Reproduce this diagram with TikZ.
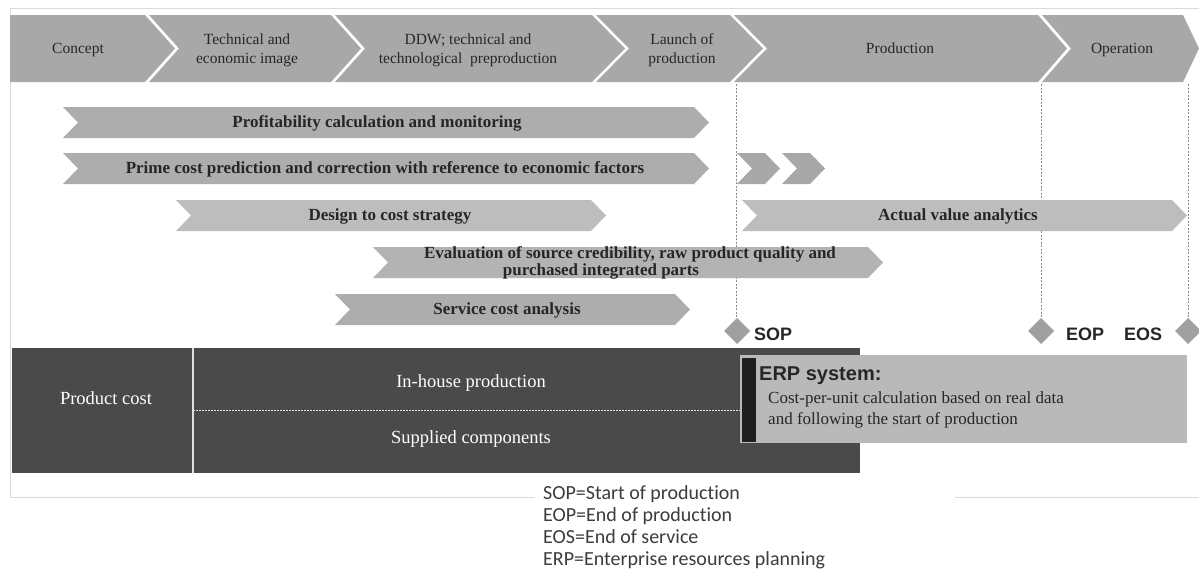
\documentclass[tikz,border=0pt]{standalone}
\usepackage{fontspec}
\setmainfont{Liberation Serif}
\newfontfamily\arialf{Liberation Sans}
\newfontfamily\calib[Ligatures=NoCommon]{Carlito}
\definecolor{chevgray}{HTML}{A8A8A8}
\definecolor{barA}{HTML}{ADADAD}
\definecolor{barB}{HTML}{BDBDBD}
\definecolor{barC}{HTML}{B3B3B3}
\definecolor{darkbox}{HTML}{4A4A4A}
\definecolor{erpgray}{HTML}{B9B9B9}
\definecolor{txtdark}{HTML}{262626}
\definecolor{framegray}{HTML}{DADADA}
\definecolor{dashgray}{HTML}{8C8C8C}
\definecolor{diagray}{HTML}{A0A0A0}
\tikzset{
  chev/.style={fill=chevgray, draw=none},
  phase/.style={inner sep=0pt, text=txtdark, align=center, font=\fontsize{15.5}{19}\selectfont},
  bartxt/.style={inner sep=0pt, text=txtdark, anchor=base, font=\bfseries\fontsize{17}{17}\selectfont},
  boxtxt/.style={inner sep=0pt, text=white, anchor=base, font=\fontsize{18.5}{22}\selectfont},
  milestone/.style={inner sep=0pt, text=txtdark, anchor=base, font=\arialf\bfseries\fontsize{18}{18}\selectfont},
  legend/.style={inner sep=0pt, text=txtdark!90, anchor=base west, font=\calib\fontsize{20}{22}\selectfont},
  erptxt/.style={inner sep=0pt, text=txtdark, anchor=base west, font=\fontsize{17}{21}\selectfont},
  vdash/.style={draw=dashgray, line width=0.9pt, dash pattern=on 2pt off 1.5pt},
  diam/.style={fill=diagray, draw=none}
}
\begin{document}
\begin{tikzpicture}[x=1pt,y=-1pt]
\useasboundingbox (0,0) rectangle (1199,574);
\fill[white] (0,0) rectangle (1199,574);
% frame
\draw[framegray, line width=1pt] (10,497) -- (10,8) -- (1199,8);
\draw[framegray, line width=1pt] (10,497) -- (535,497);
\draw[framegray, line width=1pt] (955,497) -- (1199,497);

% phase chevrons
\fill[chev] (10,15) -- (145,15) -- (175,48.5) -- (145,82) -- (10,82) -- cycle;
\fill[chev] (149,15) -- (331,15) -- (361,48.5) -- (331,82) -- (149,82) -- (179,48.5) -- cycle;
\fill[chev] (335,15) -- (592,15) -- (625,48.5) -- (592,82) -- (335,82) -- (365,48.5) -- cycle;
\fill[chev] (596,15) -- (730,15) -- (763,48.5) -- (730,82) -- (596,82) -- (629,48.5) -- cycle;
\fill[chev] (734,15) -- (1038,15) -- (1067,48.5) -- (1038,82) -- (734,82) -- (767,48.5) -- cycle;
\fill[chev] (1042,15) -- (1183,15) -- (1199,48.5) -- (1183,82) -- (1042,82) -- (1071,48.5) -- cycle;

\node[phase, anchor=base] (p1) at (78,53) {Concept};
\node[phase] (p2) at (247,50.5) {Technical and\\economic image};
\node[phase] (p3) at (468,50.5) {DDW; technical and\\technological\ \ preproduction};
\node[phase] (p4) at (682,50.5) {Launch of\\production};
\node[phase, anchor=base] (p5) at (900,53) {Production};
\node[phase, anchor=base] (p6) at (1122,53) {Operation};

% milestone dashed lines
\coordinate (sopT) at (736,84); \coordinate (sopB) at (736,318);
\coordinate (eopT) at (1041,84); \coordinate (eopB) at (1041,318);
\coordinate (eosT) at (1188,84); \coordinate (eosB) at (1188,318);
\draw[vdash] (sopT) -- (sopB);
\draw[vdash] (eopT) -- (eopB);
\draw[vdash] (eosT) -- (eosB);

% activity bars
\fill[barA] (63,107) -- (694,107) -- (709,122.5) -- (694,138) -- (63,138) -- (78,122.5) -- cycle;
\fill[barA] (63,153) -- (694,153) -- (709,168.5) -- (694,184) -- (63,184) -- (78,168.5) -- cycle;
\fill[chevgray] (737,153) -- (765,153) -- (780,168.5) -- (765,184) -- (737,184) -- (752,168.5) -- cycle;
\fill[chevgray] (782,153) -- (810,153) -- (825,168.5) -- (810,184) -- (782,184) -- (797,168.5) -- cycle;
\fill[barB] (176,200) -- (591,200) -- (606,215.5) -- (591,231) -- (176,231) -- (191,215.5) -- cycle;
\fill[barB] (742,200) -- (1172,200) -- (1187,215.5) -- (1172,231) -- (742,231) -- (757,215.5) -- cycle;
\fill[barC] (373,247) -- (868,247) -- (883,262.5) -- (868,278) -- (373,278) -- (388,262.5) -- cycle;
\fill[barA] (335,294) -- (675,294) -- (690,309.5) -- (675,325) -- (335,325) -- (350,309.5) -- cycle;

\node[bartxt] (b1) at (377,127) {Profitability calculation and monitoring};
\node[bartxt] (b2) at (385,173) {Prime cost prediction and correction with reference to economic factors};
\node[bartxt] (b3) at (390,220) {Design to cost strategy};
\node[bartxt] (b4) at (958,220) {Actual value analytics};
\node[bartxt] (b5a) at (630,258) {Evaluation of source credibility, raw product quality and};
\node[bartxt] (b5b) at (601,275) {purchased integrated parts};
\node[bartxt] (b6) at (507,314) {Service cost analysis};

% diamonds
\fill[diam] (737,318) -- (750,331) -- (737,344) -- (724,331) -- cycle;
\fill[diam] (1041,318) -- (1054,331) -- (1041,344) -- (1028,331) -- cycle;
\fill[diam] (1188,318) -- (1201,331) -- (1188,344) -- (1175,331) -- cycle;
\node[milestone] (sop) at (773,340) {SOP};
\node[milestone] (eop) at (1085,340) {EOP};
\node[milestone] (eos) at (1143,340) {EOS};

% product cost box
\fill[darkbox] (12,348) rectangle (860,473);
\draw[white!75!gray, line width=1.2pt] (193,348) -- (193,473);
\draw[white!80!gray, line width=0.8pt, dash pattern=on 2pt off 1pt] (193,410) -- (740,410);
\node[boxtxt] (pc) at (106,404) {Product cost};
\node[boxtxt] (ih) at (471,387) {In-house production};
\node[boxtxt] (sc) at (471,443) {Supplied components};

% ERP box
\fill[erpgray] (740,355) rectangle (1187,443);
\fill[black!88] (742,358) rectangle (756,442);
\node[inner sep=0pt, anchor=base west, text=txtdark, font=\arialf\bfseries\fontsize{20}{20}\selectfont] (erp) at (759,380) {ERP system:};
\node[erptxt] (erp1) at (768,403) {Cost-per-unit calculation based on real data};
\node[erptxt] (erp2) at (768,424) {and following the start of production};

% legend
\node[legend] (l1) at (543,499) {SOP=Start of production};
\node[legend] (l2) at (543,521) {EOP=End of production};
\node[legend] (l3) at (543,543) {EOS=End of service};
\node[legend] (l4) at (543,565) {ERP=Enterprise resources planning};
\end{tikzpicture}
\end{document}
